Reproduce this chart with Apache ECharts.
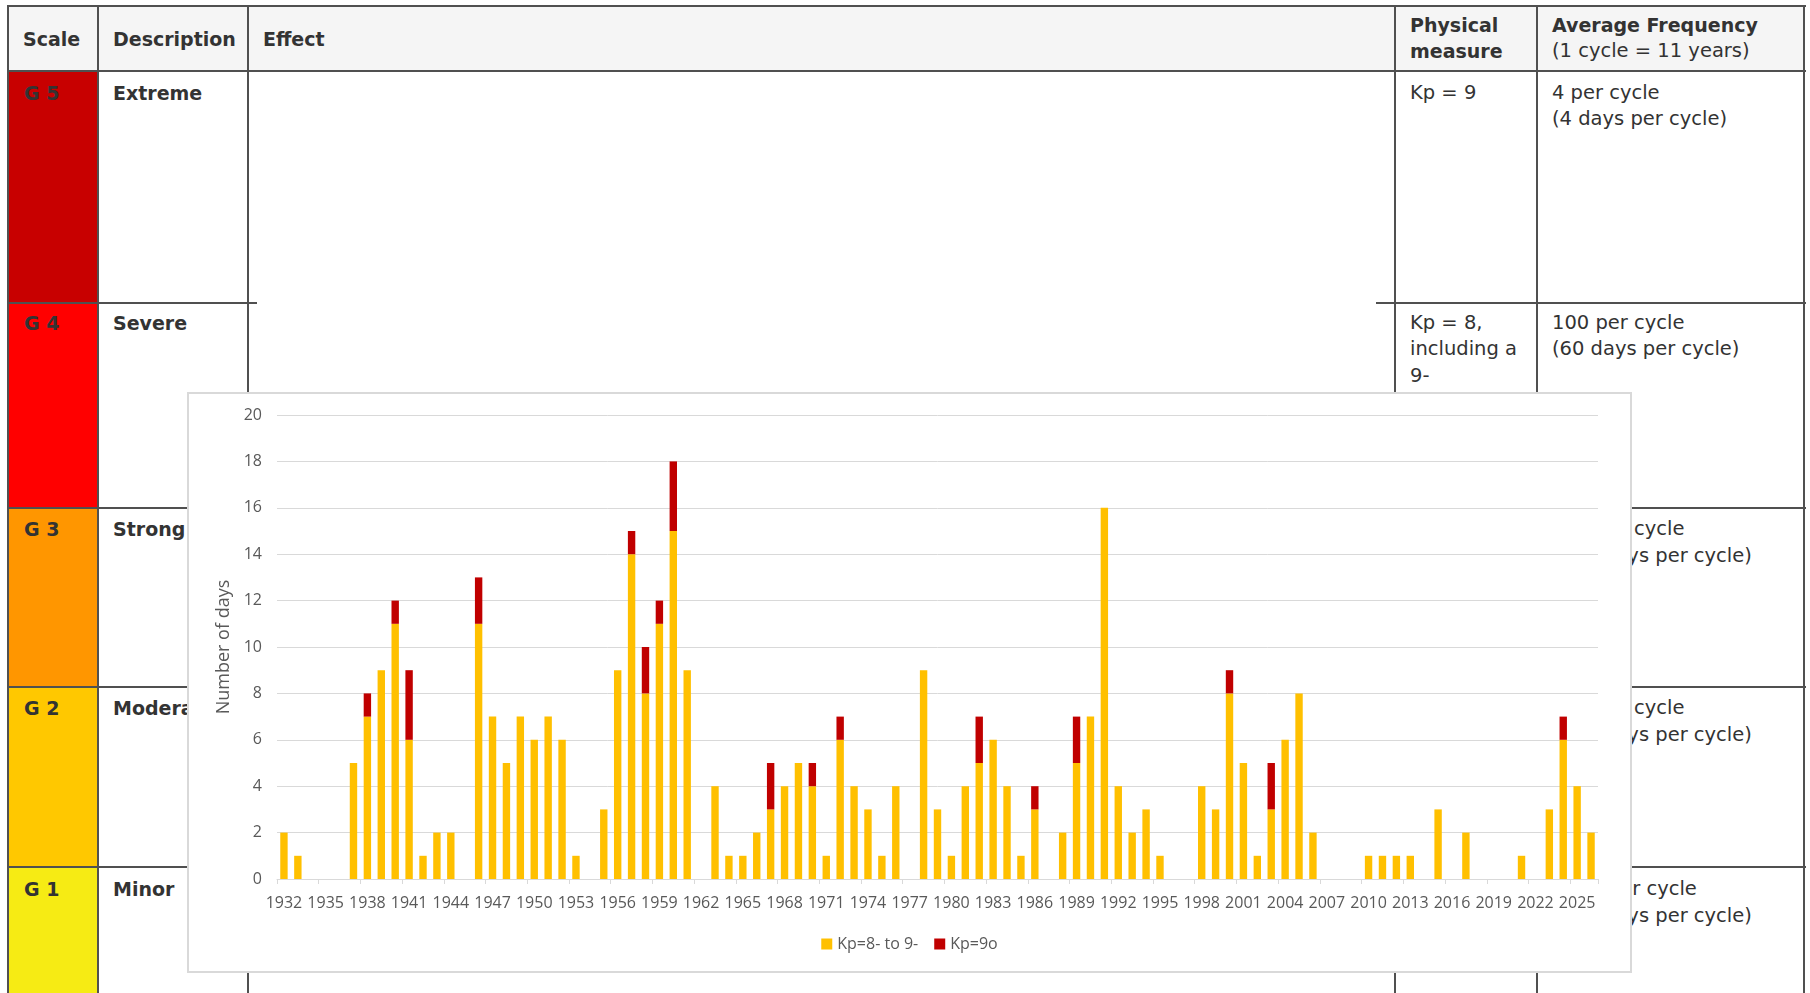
<!DOCTYPE html>
<html>
<head>
<meta charset="utf-8">
<title>Geomagnetic storm days per year</title>
<script src="https://cdn.jsdelivr.net/npm/echarts@6/dist/echarts.min.js"></script>
<style>
  html, body { margin: 0; padding: 0; background: #fff; width: 1810px; height: 993px; overflow: hidden; }
  body { position: relative; font-family: "DejaVu Sans", Verdana, sans-serif; color: #333; }
  .hl { position: absolute; height: 2px; background: #505050; }
  .vl { position: absolute; width: 2px; background: #505050; }
  .fill { position: absolute; }
  .txt { position: absolute; line-height: 26.5px; font-size: 19.5px; white-space: nowrap; color: #333; }
  .bold { font-weight: bold; font-size: 19px; }
  #panel { position: absolute; left: 187px; top: 392px; width: 1441px; height: 577px;
           border: 2px solid #D9D9D9; background: #fff; }
  #chart { width: 1441px; height: 577px; }
</style>
</head>
<body>
<div id="table"></div>
<div id="panel"><div id="chart"></div></div>
<script>
// ---- Storm scale table ----
const scaleNames   = ['G 5', 'G 4', 'G 3', 'G 2', 'G 1'];
const scaleLabels  = ['Extreme', 'Severe', 'Strong', 'Moderate', 'Minor'];
const scaleColors  = ['#C80000', '#FF0000', '#FF9600', '#FFC800', '#F6EB14'];
const physMeasure  = [['Kp = 9'], ['Kp = 8,', 'including a', '9-'], ['Kp = 7'], ['Kp = 6'], ['Kp = 5']];
const avgFrequency = [
  ['4 per cycle', '(4 days per cycle)'],
  ['100 per cycle', '(60 days per cycle)'],
  ['200 per cycle', '(130 days per cycle)'],
  ['600 per cycle', '(360 days per cycle)'],
  ['1700 per cycle', '(900 days per cycle)']
];

// table geometry (page pixels)
const colLines = [8, 98, 248, 1395, 1537, 1804];
const rowLines = [70.5, 302.5, 507.5, 686.5, 866.5, 1000];
const rowBaselines = [99.5, 329.5, 536, 715, 896];

const table = document.getElementById('table');
function add(cls, css, html) {
  const d = document.createElement('div');
  d.className = cls;
  Object.assign(d.style, css);
  if (html !== undefined) d.innerHTML = html;
  table.appendChild(d);
  return d;
}
function textAt(x, baseline, lines, bold) {
  const top = baseline - (bold ? 19.6 : 20);
  add('txt' + (bold ? ' bold' : ''), { left: x + 'px', top: top + 'px' }, lines.join('<br>'));
}

// header band
add('fill', { left: '9px', top: '6px', width: '1795px', height: '65px', background: '#F5F5F5' });
// coloured scale cells
scaleColors.forEach((c, i) => {
  const t = rowLines[i] + 1, b = rowLines[i + 1] - 1;
  add('fill', { left: '9px', top: t + 'px', width: '89px', height: (b - t) + 'px', background: c });
});
// grid lines
add('hl', { left: '7px', top: '4.5px', width: '1799px' });
add('hl', { left: '7px', top: '69.5px', width: '1799px' });
rowLines.slice(1, 5).forEach(y => {
  add('hl', { left: '7px', top: (y - 1) + 'px', width: '250px' });
  add('hl', { left: '1376px', top: (y - 1) + 'px', width: '430px' });
});
colLines.forEach(x => add('vl', { left: (x - 1) + 'px', top: '4.5px', height: '990px' }));

// header texts
textAt(23, 45.5, ['Scale'], true);
textAt(113, 45.5, ['Description'], true);
textAt(263, 45.5, ['Effect'], true);
textAt(1410, 31.5, ['Physical', 'measure'], true);
textAt(1552, 31.5, ['Average Frequency'], true);
textAt(1552, 58, ['(1 cycle = 11 years)'], false);

// body texts
scaleNames.forEach((g, i) => {
  const bl = rowBaselines[i];
  textAt(24, bl, [g], true);
  textAt(113, bl, [scaleLabels[i]], true);
  textAt(1410, bl, physMeasure[i], false);
  textAt(1552, bl, avgFrequency[i], false);
});

// ---- Chart: days per year with Kp >= 8- ----
const years = [
  '1932','1933','1934','1935','1936','1937','1938','1939','1940','1941',
  '1942','1943','1944','1945','1946','1947','1948','1949','1950','1951',
  '1952','1953','1954','1955','1956','1957','1958','1959','1960','1961',
  '1962','1963','1964','1965','1966','1967','1968','1969','1970','1971',
  '1972','1973','1974','1975','1976','1977','1978','1979','1980','1981',
  '1982','1983','1984','1985','1986','1987','1988','1989','1990','1991',
  '1992','1993','1994','1995','1996','1997','1998','1999','2000','2001',
  '2002','2003','2004','2005','2006','2007','2008','2009','2010','2011',
  '2012','2013','2014','2015','2016','2017','2018','2019','2020','2021',
  '2022','2023','2024','2025','2026'
];
// days with Kp = 8- to 9-
const kp8to9minus = [
  2, 1, 0, 0, 0, 5, 7, 9, 11, 6,
  1, 2, 2, 0, 11, 7, 5, 7, 6, 7,
  6, 1, 0, 3, 9, 14, 8, 11, 15, 9,
  0, 4, 1, 1, 2, 3, 4, 5, 4, 1,
  6, 4, 3, 1, 4, 0, 9, 3, 1, 4,
  5, 6, 4, 1, 3, 0, 2, 5, 7, 16,
  4, 2, 3, 1, 0, 0, 4, 3, 8, 5,
  1, 3, 6, 8, 2, 0, 0, 0, 1, 1,
  1, 1, 0, 3, 0, 2, 0, 0, 0, 1,
  0, 3, 6, 4, 2
];
// days with Kp = 9o
const kp9o = [
  0, 0, 0, 0, 0, 0, 1, 0, 1, 3,
  0, 0, 0, 0, 2, 0, 0, 0, 0, 0,
  0, 0, 0, 0, 0, 1, 2, 1, 3, 0,
  0, 0, 0, 0, 0, 2, 0, 0, 1, 0,
  1, 0, 0, 0, 0, 0, 0, 0, 0, 0,
  2, 0, 0, 0, 1, 0, 0, 2, 0, 0,
  0, 0, 0, 0, 0, 0, 0, 0, 1, 0,
  0, 2, 0, 0, 0, 0, 0, 0, 0, 0,
  0, 0, 0, 0, 0, 0, 0, 0, 0, 0,
  0, 0, 1, 0, 0
];
const seriesNames = ['Kp=8- to 9-', 'Kp=9o'];

const FONT = '"Open Sans", "Noto Sans", sans-serif';
const GREY = '#595959';
const chart = echarts.init(document.getElementById('chart'), null, { renderer: 'canvas' });
chart.setOption({
  animation: false,
  backgroundColor: '#fff',
  textStyle: { fontFamily: FONT },
  grid: { left: 88, right: 32, top: 21, bottom: 92, containLabel: false },
  legend: {
    data: seriesNames,
    left: 'center',
    top: 537,
    icon: 'rect',
    itemWidth: 11,
    itemHeight: 11,
    itemGap: 16,
    textStyle: { color: GREY, fontSize: 16, fontFamily: FONT }
  },
  xAxis: {
    type: 'category',
    data: years,
    boundaryGap: true,
    axisLine: { lineStyle: { color: '#D9D9D9', width: 1 } },
    axisTick: { show: true, interval: 2, length: 5, lineStyle: { color: '#D9D9D9' } },
    axisLabel: { interval: 2, color: GREY, fontSize: 16, fontFamily: FONT, margin: 16 },
    splitLine: { show: false }
  },
  yAxis: {
    type: 'value',
    min: 0,
    max: 20,
    interval: 2,
    name: 'Number of days',
    nameLocation: 'middle',
    nameGap: 42,
    nameTextStyle: { color: GREY, fontSize: 18, fontFamily: FONT },
    axisLine: { show: false },
    axisTick: { show: false },
    axisLabel: { color: GREY, fontSize: 16, fontFamily: FONT, margin: 15 },
    splitLine: { lineStyle: { color: '#D9D9D9', width: 1 } }
  },
  series: [
    {
      name: seriesNames[0],
      type: 'bar',
      stack: 'days',
      data: kp8to9minus,
      barWidth: 7.4,
      itemStyle: { color: '#FFC000' }
    },
    {
      name: seriesNames[1],
      type: 'bar',
      stack: 'days',
      data: kp9o,
      barWidth: 7.4,
      itemStyle: { color: '#C00000' }
    }
  ]
});
</script>
</body>
</html>
